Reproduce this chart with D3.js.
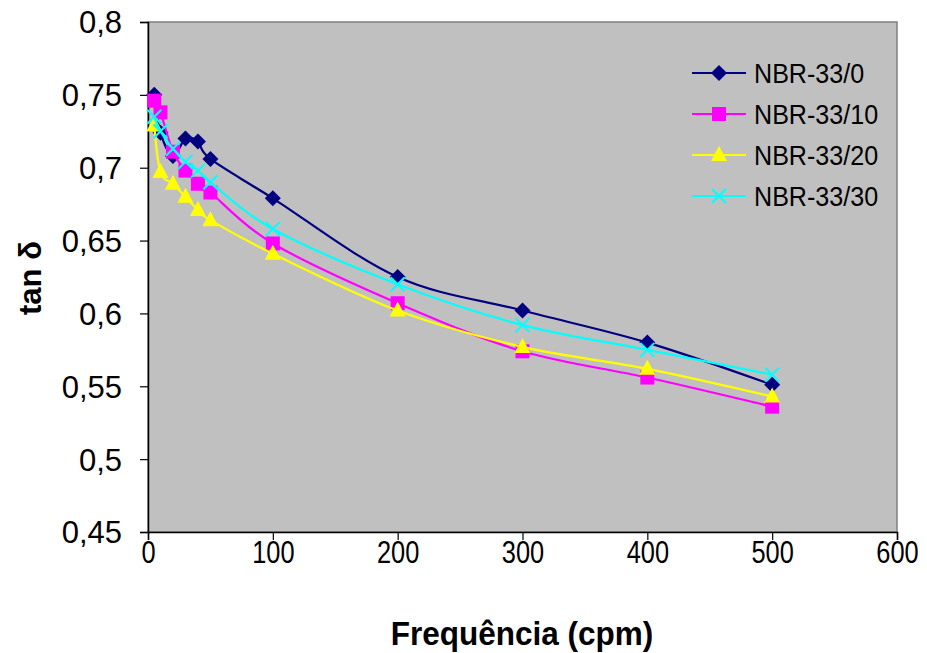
<!DOCTYPE html>
<html>
<head>
<meta charset="utf-8">
<script src="https://cdn.jsdelivr.net/npm/d3@7"></script>
<style>
  html, body { margin: 0; padding: 0; background: #ffffff; }
  svg { display: block; font-family: "Liberation Sans", Arial, sans-serif; }
</style>
</head>
<body>
<svg id="chart" width="927" height="653"></svg>
<script>
// Loss factor (tan δ) versus frequency for the NBR-33 compounds
const frequencies = [5, 10, 20, 30, 40, 50, 100, 200, 300, 400, 500];

const seriesNames = ["NBR-33/0", "NBR-33/10", "NBR-33/20", "NBR-33/30"];

const nbr33_0  = [0.750, 0.724, 0.708, 0.720, 0.718, 0.706, 0.679, 0.625, 0.602, 0.580, 0.551];
const nbr33_10 = [0.746, 0.738, 0.711, 0.698, 0.689, 0.683, 0.648, 0.607, 0.574, 0.556, 0.536];
const nbr33_20 = [0.729, 0.697, 0.689, 0.680, 0.671, 0.664, 0.641, 0.602, 0.577, 0.562, 0.543];
const nbr33_30 = [0.735, 0.725, 0.713, 0.704, 0.698, 0.690, 0.658, 0.620, 0.592, 0.575, 0.558];

const xTicks = [0, 100, 200, 300, 400, 500, 600];
const yTicks = [0.45, 0.5, 0.55, 0.6, 0.65, 0.7, 0.75, 0.8];

const seriesValues = [nbr33_0, nbr33_10, nbr33_20, nbr33_30];
const seriesColors = ["#000080", "#ff00ff", "#ffff00", "#00ffff"];
const seriesMarkers = ["diamond", "square", "triangle", "cross"];

const svg = d3.select("#chart");
const plot = { left: 148, top: 22, right: 897, bottom: 532 };

const x = d3.scaleLinear().domain([0, 600]).range([plot.left, plot.right]);
const y = d3.scaleLinear().domain([0.45, 0.8]).range([plot.bottom, plot.top]);

const commaFmt = v => String(+v.toFixed(2)).replace(".", ",");

// plot area
svg.append("rect")
  .attr("x", plot.left).attr("y", plot.top)
  .attr("width", plot.right - plot.left).attr("height", plot.bottom - plot.top)
  .attr("fill", "#c0c0c0")
  .attr("stroke", "#808080").attr("stroke-width", 1.5);

// axes
const xAxis = d3.axisBottom(x).tickValues(xTicks).tickSize(8).tickPadding(1).tickFormat(d3.format("d"));
const yAxis = d3.axisLeft(y).tickValues(yTicks).tickSize(8).tickPadding(18).tickFormat(commaFmt);

const gx = svg.append("g").attr("transform", `translate(0,${plot.bottom})`).call(xAxis);
const gy = svg.append("g").attr("transform", `translate(${plot.left},0)`).call(yAxis);

[gx, gy].forEach(g => {
  g.select(".domain").attr("stroke", "#000").attr("stroke-width", 1.5);
  g.selectAll(".tick line").attr("stroke", "#000").attr("stroke-width", 1.2);
  g.selectAll(".tick text")
    .attr("fill", "#000")
    .attr("font-family", "'Liberation Sans', Arial, sans-serif")
    .attr("font-size", 31);
});
gy.selectAll(".tick text").attr("dy", "0.35em");
// the frequency labels are set slightly condensed
gx.selectAll(".tick text").attr("transform", "scale(0.82,1)");

// axis titles
svg.append("text")
  .attr("transform", `translate(522,645) scale(0.955,1)`)
  .attr("text-anchor", "middle")
  .attr("font-weight", "bold")
  .attr("font-size", 33)
  .text("Frequência (cpm)");

svg.append("text")
  .attr("transform", `translate(41,278) rotate(-90)`)
  .attr("text-anchor", "middle")
  .attr("font-weight", "bold")
  .attr("font-size", 31)
  .text("tan δ");

// marker shapes
function drawMarker(g, type, color) {
  if (type === "diamond") {
    g.append("path").attr("d", "M0,-8L8,0L0,8L-8,0Z").attr("fill", color);
  } else if (type === "square") {
    g.append("rect").attr("x", -7).attr("y", -7).attr("width", 14).attr("height", 14).attr("fill", color);
  } else if (type === "triangle") {
    g.append("path").attr("d", "M0,-9L8,6L-8,6Z").attr("fill", color);
  } else {
    g.append("path").attr("d", "M-7,-7L7,7M-7,7L7,-7")
      .attr("stroke", color).attr("stroke-width", 2).attr("fill", "none");
  }
}

// series, smoothed with a uniform Catmull-Rom spline
const line = d3.line()
  .x((d, i) => x(frequencies[i]))
  .y(d => y(d))
  .curve(d3.curveCatmullRom.alpha(0));

seriesValues.forEach((vals, s) => {
  const g = svg.append("g");
  g.append("path")
    .datum(vals)
    .attr("d", line)
    .attr("fill", "none")
    .attr("stroke", seriesColors[s])
    .attr("stroke-width", 2.2);
  vals.forEach((v, i) => {
    const m = g.append("g").attr("transform", `translate(${x(frequencies[i])},${y(v)})`);
    drawMarker(m, seriesMarkers[s], seriesColors[s]);
  });
});

// legend
const legendRows = [73, 114, 155, 196];
seriesNames.forEach((name, s) => {
  const g = svg.append("g").attr("transform", `translate(0,${legendRows[s]})`);
  g.append("line").attr("x1", 692).attr("x2", 746).attr("y1", 0).attr("y2", 0)
    .attr("stroke", seriesColors[s]).attr("stroke-width", 2.2);
  const m = g.append("g").attr("transform", "translate(719,0)");
  drawMarker(m, seriesMarkers[s], seriesColors[s]);
  g.append("text")
    .attr("transform", "translate(754,10) scale(0.93,1)")
    .attr("font-size", 27)
    .attr("fill", "#000")
    .text(name);
});
</script>
</body>
</html>
